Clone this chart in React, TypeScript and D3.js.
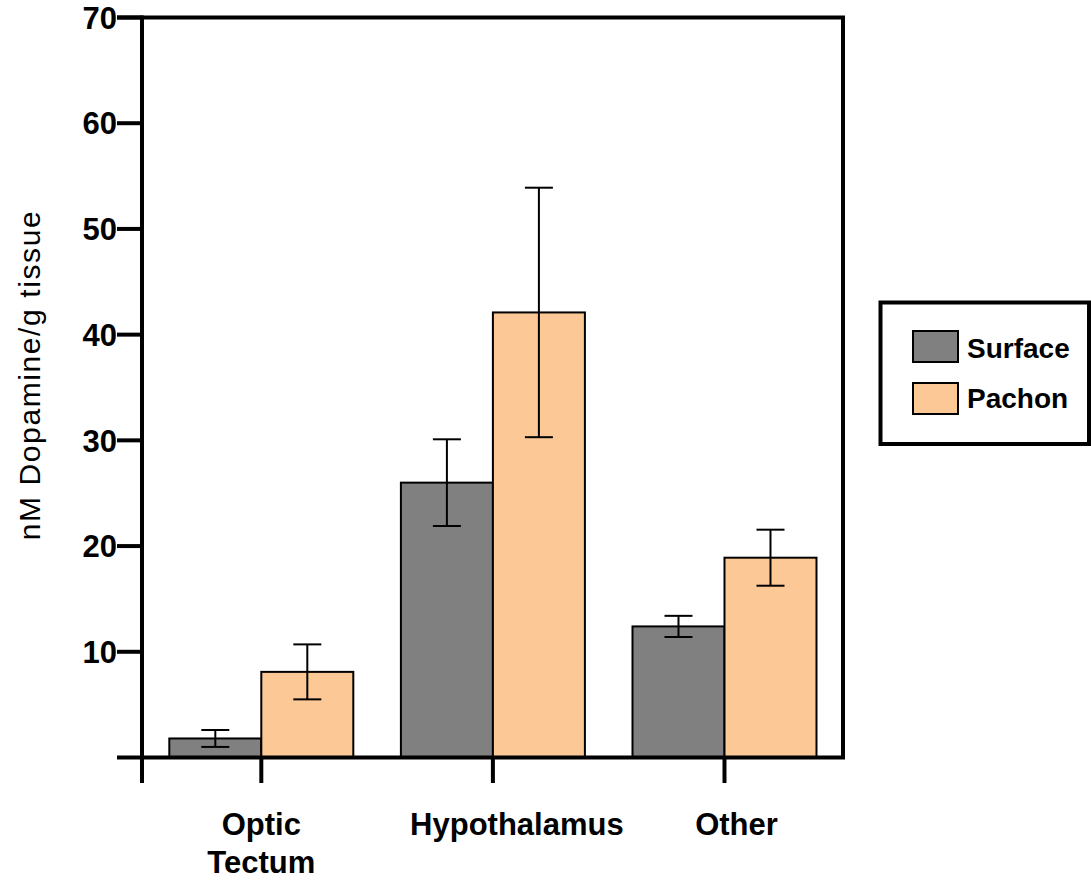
import React from "react";
import * as d3 from "d3";

// regions and series
const regions = ["Optic Tectum", "Hypothalamus", "Other"];
const regionLines = [["Optic", "Tectum"], ["Hypothalamus"], ["Other"]];
const seriesNames = ["Surface", "Pachon"];
const surfaceMeans = [1.8, 26.0, 12.4];
const surfaceErrs = [0.8, 4.1, 1.0];
const pachonMeans = [8.1, 42.1, 18.9];
const pachonErrs = [2.6, 11.8, 2.65];
const yTicks = [10, 20, 30, 40, 50, 60, 70];

const colors = ["#808080", "#FCC895"];
const font = "'Liberation Sans', Arial, Helvetica, sans-serif";

const App = () => {
  const left = 142;
  const right = 843;
  const top = 17.5;
  const bottom = 757.5;
  // labels in the original sit a bit right of their tick
  const labelShift = [0, 24, 12];

  const y = d3.scaleLinear().domain([0, 70]).range([bottom, top]);
  const x0 = d3
    .scaleBand()
    .domain(regions)
    .range([145.5, 840.3])
    .paddingInner(0.2055)
    .paddingOuter(0.1028);
  const x1 = d3
    .scaleBand()
    .domain(seriesNames)
    .range([0, x0.bandwidth()]);

  const means = [surfaceMeans, pachonMeans];
  const errs = [surfaceErrs, pachonErrs];
  const capW = 28;

  return (
    <svg
      width={1091}
      height={882}
      style={{ position: "absolute", left: 0, top: 0, background: "#fff" }}
      fontFamily={font}
    >
      {/* bars */}
      {regions.map((r, i) =>
        seriesNames.map((s, j) => {
          const bx = x0(r) + x1(s);
          const v = means[j][i];
          return (
            <rect
              key={r + s}
              x={bx}
              y={y(v)}
              width={x1.bandwidth()}
              height={y(0) - y(v)}
              fill={colors[j]}
              stroke="#000"
              strokeWidth={2}
            />
          );
        })
      )}

      {/* error bars */}
      {regions.map((r, i) =>
        seriesNames.map((s, j) => {
          const cx = x0(r) + x1(s) + x1.bandwidth() / 2;
          const v = means[j][i];
          const e = errs[j][i];
          return (
            <g key={"e" + r + s} stroke="#000" strokeWidth={2}>
              <line x1={cx} x2={cx} y1={y(v + e)} y2={y(v - e)} />
              <line x1={cx - capW / 2} x2={cx + capW / 2} y1={y(v + e)} y2={y(v + e)} />
              <line x1={cx - capW / 2} x2={cx + capW / 2} y1={y(v - e)} y2={y(v - e)} />
            </g>
          );
        })
      )}

      {/* frame */}
      <g stroke="#000" strokeWidth={4} fill="none">
        <line x1={117} x2={right + 2} y1={top} y2={top} />
        <line x1={right} x2={right} y1={top} y2={bottom} />
        <line x1={117} x2={right + 2} y1={bottom} y2={bottom} />
        <line x1={left} x2={left} y1={top - 2} y2={783} />
      </g>

      {/* y ticks */}
      {yTicks.map((t) => (
        <g key={"yt" + t}>
          <line x1={117} x2={left} y1={y(t)} y2={y(t)} stroke="#000" strokeWidth={4} />
          <text
            x={117}
            y={y(t)}
            dy="0.36em"
            textAnchor="end"
            fontSize={31}
            fontWeight="bold"
            fill="#000"
          >
            {t}
          </text>
        </g>
      ))}

      {/* x ticks and labels */}
      {regions.map((r, i) => {
        const cx = x0(r) + x0.bandwidth() / 2;
        return (
          <g key={"xt" + r}>
            <line x1={cx} x2={cx} y1={bottom} y2={783} stroke="#000" strokeWidth={4} />
            {regionLines[i].map((ln, k) => (
              <text
                key={ln}
                x={cx + labelShift[i]}
                y={835 + k * 38}
                textAnchor="middle"
                fontSize={31}
                fontWeight="bold"
                fill="#000"
              >
                {ln}
              </text>
            ))}
          </g>
        );
      })}

      {/* y title */}
      <text
        transform="translate(40,375) rotate(-90)"
        textAnchor="middle"
        fontSize={30}
        letterSpacing={1.6}
        fill="#000"
      >
        nM Dopamine/g tissue
      </text>

      {/* legend */}
      <rect x={880.5} y={302.5} width={208.5} height={141.5} fill="#fff" stroke="#000" strokeWidth={4} />
      {seriesNames.map((s, j) => (
        <g key={"lg" + s}>
          <rect
            x={913}
            y={331 + j * 52}
            width={45}
            height={31}
            fill={colors[j]}
            stroke="#000"
            strokeWidth={2}
          />
          <text x={967} y={358 + j * 50} fontSize={28} fontWeight="bold" fill="#000">
            {s}
          </text>
        </g>
      ))}
    </svg>
  );
};

export default App;
